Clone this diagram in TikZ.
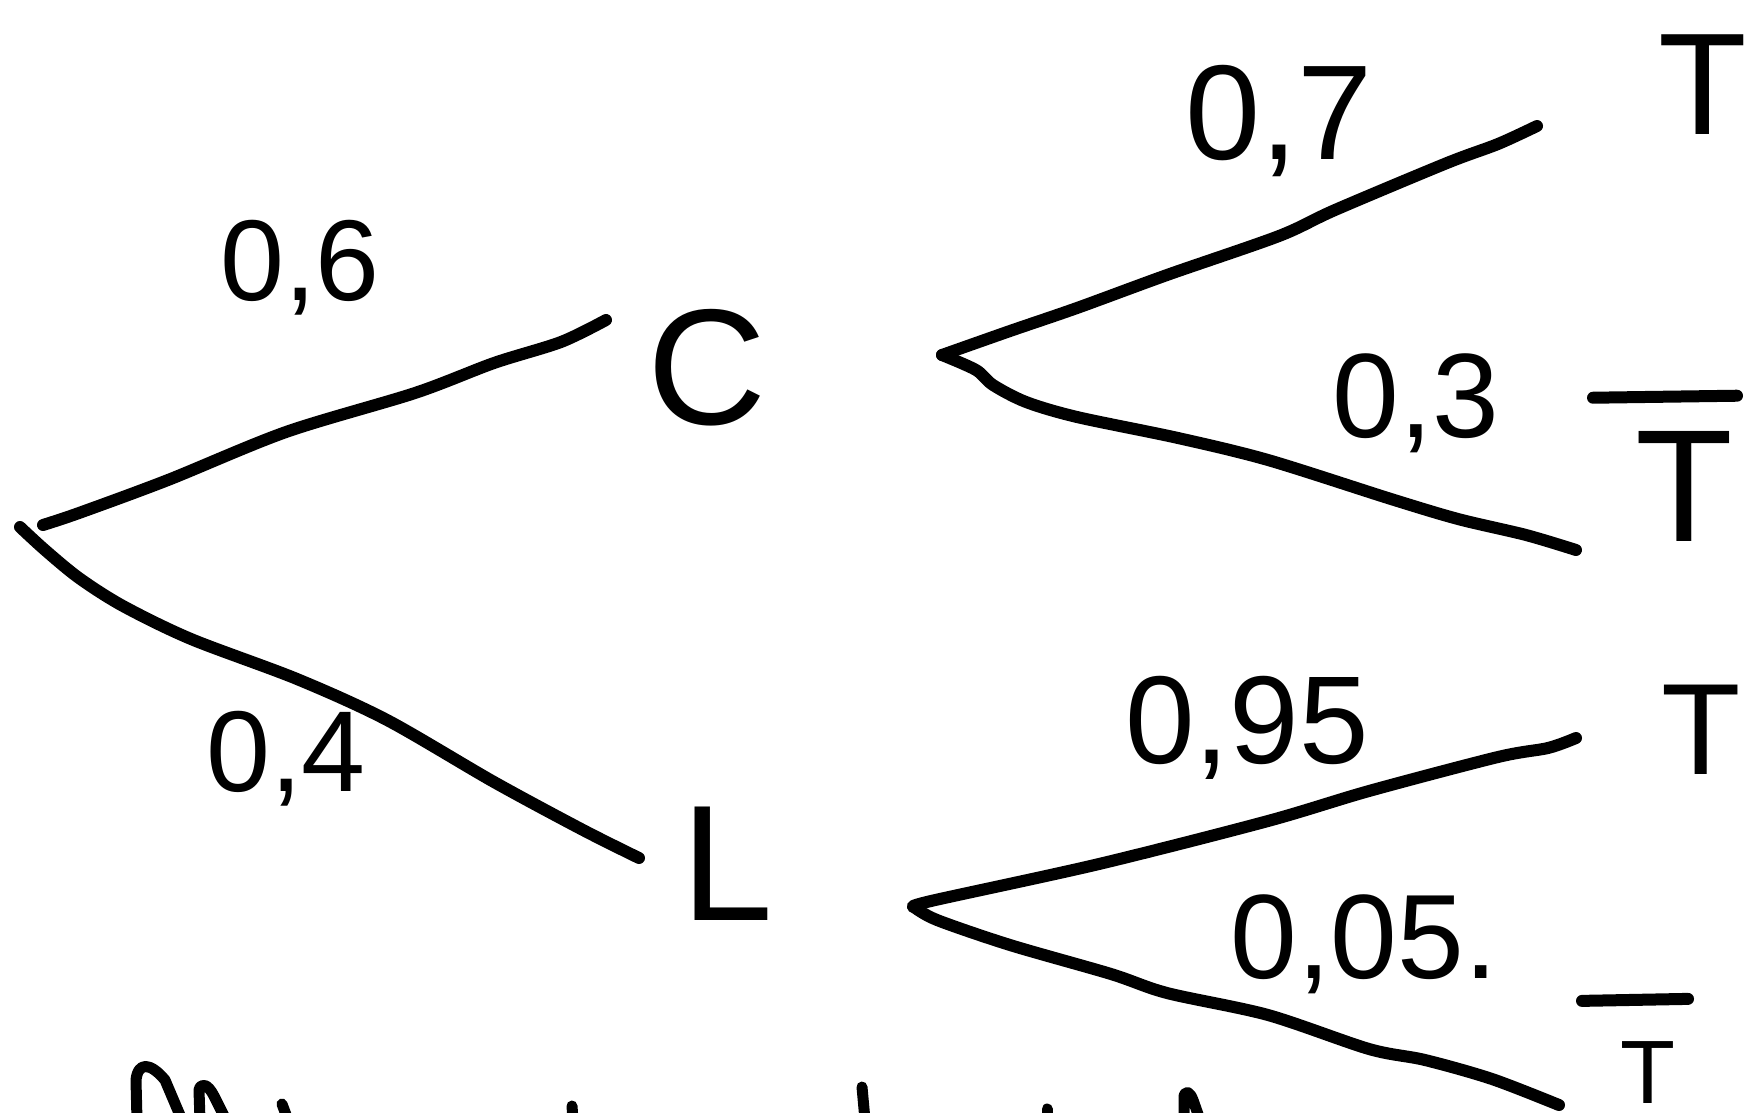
\documentclass[tikz,border=0pt]{standalone}
\usepackage{fontspec}
\setmainfont{Liberation Sans}
\usetikzlibrary{calc}
\begin{document}
\begin{tikzpicture}[x=1pt,y=-1pt,
  branch/.style={line width=12pt, line cap=round, line join=round},
  lab/.style={inner sep=0pt, anchor=base, font=\fontsize{#1}{#1}\selectfont},
  lab/.default=110,
  stub/.style={line width=11pt, line cap=round, line join=round}]
\useasboundingbox (0,0) rectangle (1759,1113);
\clip (0,0) rectangle (1759,1113);
\fill[white] (0,0) rectangle (1759,1113);

% labels
\node[lab=115] (p06) at (300,300) {0,6};
\node[lab=115] (p04) at (286,791) {0,4};
\node[lab=165] (C) at (707,424) {C};
\node[lab=165] (L) at (727,920) {L};
\node[lab=135] (p07) at (1279,160) {0,7};
\node[lab=120] (p03) at (1416,437) {0,3};
\node[lab=125] (p095) at (1247,763) {0,95};
\node[lab=120] (p005) at (1364,978) {0,05.};
\node[lab=145] (T1) at (1703,135) {T};
\node[lab=160] (T2) at (1684,541) {T};
\node[lab=130] (T3) at (1701,774) {T};
\node[lab=90] (T4) at (1648,1103) {T};
\draw[branch] ($(T2.north)+(-91,-33)$) -- ($(T2.north)+(53,-35)$);
\draw[branch] ($(T4.north)+(-66,-40)$) -- ($(T4.north)+(40,-42)$);

% tree
\coordinate (root) at (20,527);
\coordinate (rootU) at (43,525);
\coordinate (cEnd) at (606,320);
\coordinate (lEnd) at (639,858);
\coordinate (cFork) at (942,355);
\coordinate (lFork) at (914,907);
\coordinate (e1) at (1537,126);
\coordinate (e2) at (1576,550);
\coordinate (e3) at (1576,738);
\coordinate (e4) at (1559,1105);

\draw[branch] plot[smooth,tension=0.5] coordinates {(rootU) (79,513) (168,480) (286,432) (415,393) (494,363) (561,342) (cEnd)};
\draw[branch] plot[smooth,tension=0.5] coordinates {(root) (45,550) (79,578) (123,606) (191,639) (297,679) (387,720) (494,782) (583,830) (lEnd)};

\draw[branch] plot[smooth,tension=0.5] coordinates {(cFork) (1010,331) (1077,308) (1167,275) (1279,236) (1335,210) (1447,163) (1498,144) (e1)};
\draw[branch] plot[smooth,tension=0.5] coordinates {(cFork) (976,370) (993,385) (1026,402) (1077,417) (1178,438) (1268,460) (1391,499) (1458,519) (1526,535) (e2)};

\draw[branch] plot[smooth,tension=0.5] coordinates {(lFork) (931,901) (1099,864) (1268,821) (1369,791) (1498,757) (1548,748) (e3)};
\draw[branch] plot[smooth,tension=0.5] coordinates {(lFork) (937,920) (1010,945) (1111,974) (1167,993) (1268,1015) (1369,1049) (1425,1060) (1492,1079) (e4)};

% cut-off strokes at the bottom edge
\draw[stub] (137,1120) -- (136,1080) .. controls (138,1062) and (150,1062) .. (165,1080) -- (182,1120);
\draw[stub] (200,1120) -- (199,1090) .. controls (201,1082) and (208,1084) .. (214,1096) -- (226,1120);
\draw[stub] (282,1104) -- (288,1120);
\draw[stub] (572,1106) -- (573,1120);
\draw[stub] (862,1087) -- (865,1120);
\draw[stub] (1047,1109) -- (1047,1120);
\draw[stub] (1184,1120) -- (1184,1096) .. controls (1186,1090) and (1190,1092) .. (1193,1100) -- (1200,1120);
\end{tikzpicture}
\end{document}
